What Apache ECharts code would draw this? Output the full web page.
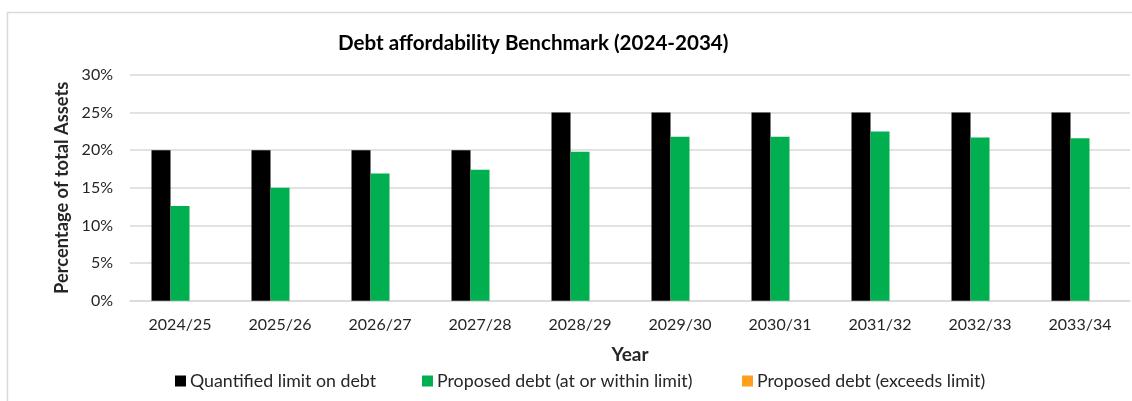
<!DOCTYPE html>
<html>
<head>
<meta charset="utf-8">
<script src="https://cdn.jsdelivr.net/npm/echarts@6/dist/echarts.min.js"></script>
<style>
html,body{margin:0;padding:0;background:#fff;}
#chart{width:1132px;height:401px;}
</style>
</head>
<body>
<div id="chart"></div>
<script>
const categories = ['2024/25','2025/26','2026/27','2027/28','2028/29','2029/30','2030/31','2031/32','2032/33','2033/34'];
const quantifiedLimit = [20,20,20,20,25,25,25,25,25,25];
const proposedWithin = [12.6,15.0,16.9,17.4,19.8,21.8,21.8,22.5,21.7,21.6];
const proposedExceeds = [null,null,null,null,null,null,null,null,null,null];
const yTicks = [0,5,10,15,20,25,30];

const FONT = 'Lato, "Open Sans", sans-serif';
const TXT = '#262626';

const chart = echarts.init(document.getElementById('chart'), null, {renderer:'canvas'});
function legendFor(name, left){
  return {
    data:[name], left:left, top:367, icon:'rect', itemWidth:11, itemHeight:11, itemGap:0,
    textStyle:{fontFamily:FONT, fontSize:17.8, color:TXT, padding:[0,0,0,-1]},
    selectedMode:false
  };
}
chart.setOption({
  animation:false,
  backgroundColor:'#fff',
  graphic:[{type:'rect', left:5, top:10, shape:{width:1200, height:420}, style:{fill:'none', stroke:'#d9d9d9', lineWidth:1.5}, silent:true}],
  title:{text:'Debt affordability Benchmark (2024-2034)', left:333, top:28,
    textStyle:{fontFamily:FONT, fontSize:20.6, fontWeight:'bold', color:'#000'}},
  legend:[
    legendFor('Quantified limit on debt', 170),
    legendFor('Proposed debt (at or within limit)', 417),
    legendFor('Proposed debt (exceeds limit)', 737)
  ],
  grid:{left:130, right:2, top:75, bottom:100.3},
  xAxis:{type:'category', data:categories, name:'Year', nameLocation:'middle', nameGap:45,
    nameTextStyle:{fontFamily:FONT, fontSize:19, fontWeight:'bold', color:TXT},
    axisLine:{lineStyle:{color:'#d9d9d9', width:1.5}}, axisTick:{show:false},
    axisLabel:{fontFamily:FONT, fontSize:16, color:TXT, margin:16}},
  yAxis:{type:'value', min:0, max:30, interval:5, name:'Percentage of total Assets', nameLocation:'middle', nameGap:59,
    nameTextStyle:{fontFamily:FONT, fontSize:18.3, fontWeight:'bold', color:TXT},
    axisLabel:{formatter:'{value}%', fontFamily:FONT, fontSize:16, color:TXT, margin:17},
    axisLine:{show:false}, axisTick:{show:false},
    splitLine:{lineStyle:{color:'#d9d9d9', width:1.5}}},
  series:[
    {name:'Quantified limit on debt', type:'bar', data:quantifiedLimit, barWidth:19, barGap:'0%', itemStyle:{color:'#000'}},
    {name:'Proposed debt (at or within limit)', type:'bar', data:proposedWithin, barWidth:19, barGap:'0%', itemStyle:{color:'#00b050'}},
    {name:'Proposed debt (exceeds limit)', type:'bar', data:proposedExceeds, barWidth:19, barGap:'0%', itemStyle:{color:'#ff9f1a'}}
  ]
});
</script>
</body>
</html>
